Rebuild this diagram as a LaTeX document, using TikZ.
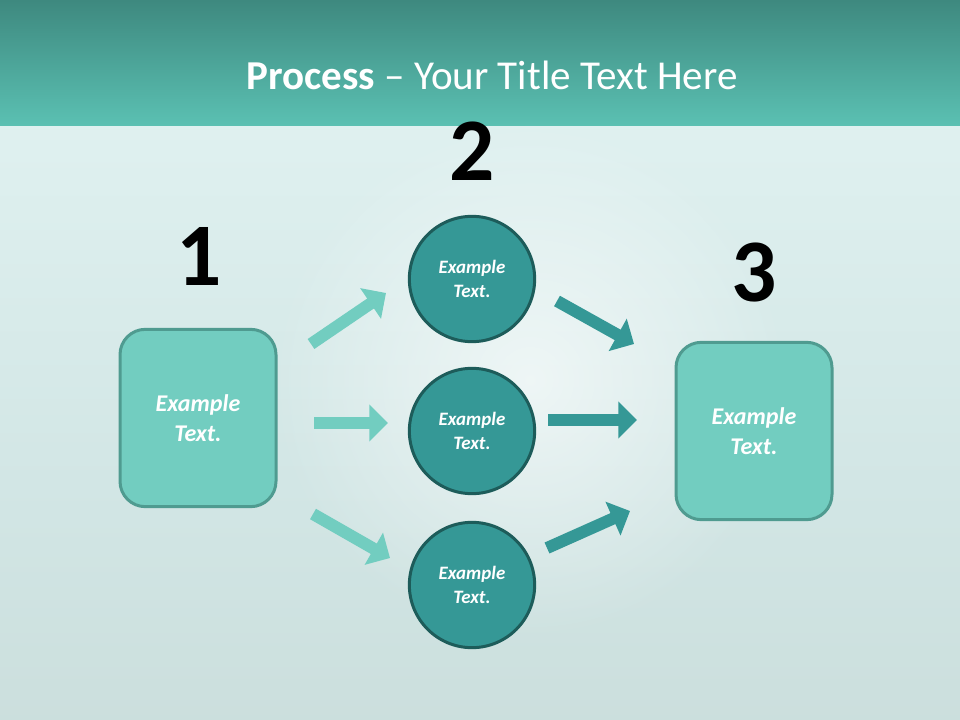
\documentclass[tikz,border=0pt]{standalone}
\usepackage{fontspec}
\setmainfont{Carlito}
\usetikzlibrary{arrows.meta,fadings}

\definecolor{bandTop}{HTML}{3E897F}
\definecolor{bandBot}{HTML}{5BC1B3}
\definecolor{bgEdge}{HTML}{A3DAD2}
\definecolor{bgLight}{HTML}{E2F3F2}
\definecolor{bgMid}{HTML}{D2E6E5}
\definecolor{bgBottom}{HTML}{C3D6D3}
\definecolor{boxFill}{HTML}{72CDC0}
\definecolor{boxLine}{HTML}{4F9B90}
\definecolor{circFill}{HTML}{359896}
\definecolor{circLine}{HTML}{1D5C5A}
\definecolor{lightArrow}{HTML}{72CDC0}
\definecolor{darkArrow}{HTML}{359896}

\pgfdeclareverticalshading{lowerbg}{100bp}{color(0bp)=(bgBottom); color(45bp)=(bgMid); color(82bp)=(bgLight); color(93bp)=(bgLight!75!bgEdge); color(100bp)=(bgEdge)}
\tikzfading[name=glowfade, inner color=transparent!40, outer color=transparent!100]

\begin{document}
\begin{tikzpicture}[x=0.75pt,y=-0.75pt]
	\tikzset{stepbox/.style={draw=boxLine, line width=2.25pt, fill=boxFill, rounded corners=19pt,
			minimum width=117pt, minimum height=133pt, align=center, text=white,
			font=\fontsize{18}{22}\selectfont\bfseries\itshape}}
	\tikzset{stepcirc/.style={circle, draw=circLine, line width=2.25pt, fill=circFill,
			minimum size=94pt, align=center, text=white,
			font=\fontsize{14.2}{17.5}\selectfont\bfseries\itshape}}
	\tikzset{stepnum/.style={font=\fontsize{67}{67}\selectfont\bfseries, text=black}}
	\tikzset{blockarrow/.style={line width=9pt, -{Triangle[length=14pt, width=27pt]}}}
	% background
	\useasboundingbox (0,0) rectangle (960,720);
	\shade[top color=bandTop, bottom color=bandBot] (0,0) rectangle (960,127);
	\shade[shading=lowerbg] (0,127) rectangle (960,720);
	\fill[white, path fading=glowfade] (530,380) circle (260);
	% title
	\node[text=white, font=\fontsize{30.8}{30.8}\selectfont] (title) at (492,75)
		{\textbf{Process} -- Your Title Text Here};
	% steps
	\node[stepbox] (box1) at (198,418) {Example\\Text.};
	\node[stepbox] (box3) at (754,431) {Example\\Text.};
	\node[stepcirc] (circA) at (472,279) {Example\\Text.};
	\node[stepcirc] (circB) at (472,431) {Example\\Text.};
	\node[stepcirc] (circC) at (472,585) {Example\\Text.};
	\node[stepnum] (num1) at (199,256) {1};
	\node[stepnum] (num2) at (472,151) {2};
	\node[stepnum] (num3) at (754,273) {3};
	% arrow ends
	\coordinate (l1s) at (311,344); \coordinate (l1e) at (386,293);
	\coordinate (l2s) at (314,423); \coordinate (l2e) at (388,423);
	\coordinate (l3s) at (313,514); \coordinate (l3e) at (390,558);
	\coordinate (r1s) at (557,301); \coordinate (r1e) at (634,344);
	\coordinate (r2s) at (548,420); \coordinate (r2e) at (637,420);
	\coordinate (r3s) at (547,548); \coordinate (r3e) at (630,511);
	\draw[blockarrow, lightArrow] (l1s) -- (l1e);
	\draw[blockarrow, lightArrow] (l2s) -- (l2e);
	\draw[blockarrow, lightArrow] (l3s) -- (l3e);
	\draw[blockarrow, darkArrow] (r1s) -- (r1e);
	\draw[blockarrow, darkArrow] (r2s) -- (r2e);
	\draw[blockarrow, darkArrow] (r3s) -- (r3e);
\end{tikzpicture}
\end{document}
